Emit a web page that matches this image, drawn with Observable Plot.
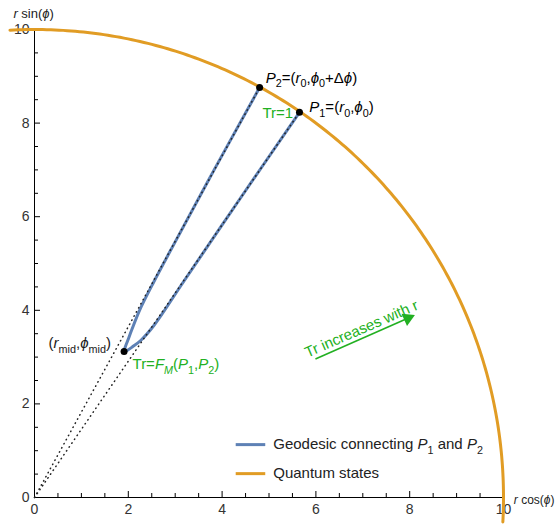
<!DOCTYPE html>
<html><head><meta charset="utf-8">
<script src="https://cdn.jsdelivr.net/npm/d3@7"></script>
<script src="https://cdn.jsdelivr.net/npm/@observablehq/plot@0.6"></script>
<style>body{margin:0;background:#fff;} #chart svg{overflow:visible}</style>
</head><body><div id="chart"></div>
<script>
// ---------- data ----------
const stateRadius = 10;
const arcAngles = d3.range(-3, 93.01, 0.5); // degrees, quantum states circle r = 10
const geoX = [4.80, 3.83, 3.02, 2.54, 2.24, 2.08, 1.99, 1.93, 1.91, 1.97, 2.09, 2.27, 2.55, 3.17, 4.40, 5.65];
const geoY = [8.76, 7.00, 5.50, 4.60, 4.00, 3.60, 3.36, 3.20, 3.12, 3.14, 3.22, 3.36, 3.68, 4.60, 6.41, 8.23];
const pointNames = ["P2", "P1", "mid"];
const pointX = [4.80, 5.65, 1.91];
const pointY = [8.76, 8.23, 3.12];
const rayEndX = [4.80, 5.65];
const rayEndY = [8.76, 8.23];
const xMajor = [0, 2, 4, 6, 8, 10];
const yMajor = [0, 2, 4, 6, 8, 10];
const xMinor = [0.5,1,1.5,2.5,3,3.5,4.5,5,5.5,6.5,7,7.5,8.5,9,9.5];
const yMinor = [0.5,1,1.5,2.5,3,3.5,4.5,5,5.5,6.5,7,7.5,8.5,9,9.5];
const annText = ["*P*_{2}=(*r*_{0},*ϕ*_{0}+Δ*ϕ*)", "*P*_{1}=(*r*_{0},*ϕ*_{0})", "Tr=1", "(*r*_{mid},*ϕ*_{mid})", "Tr=*F*_{*M*}(*P*_{1},*P*_{2})"];
const annX = [4.93, 5.86, 4.86, 0.30, 2.09];
const annY = [8.97, 8.33, 8.21, 3.29, 2.84];
const annColor = ["#000", "#000", "#22B022", "#1a1a1a", "#22B022"];
const trendText = ["Tr increases with r"];
const trendX = [6.97], trendY = [3.6];
const arrowFrom = [5.99, 2.96], arrowTo = [8.12, 3.90];
const legendLabels = ["Geodesic connecting *P*_{1} and *P*_{2}", "Quantum states"];
const legendY = [1.13, 0.51];
const axisLabels = ["*r* sin(*ϕ*)", "*r* cos(*ϕ*)"];
const axisLabelX = [-0.45, 10.22];
const axisLabelY = [10.34, -0.06];

// ---------- styles ----------
const blue = "#5E81B5", orange = "#E19C24", green = "#22B022";
const font = "'Liberation Sans', Arial, sans-serif";

const arc = arcAngles.map(a => ({x: stateRadius * Math.cos(a * Math.PI / 180), y: stateRadius * Math.sin(a * Math.PI / 180)}));
const geo = geoX.map((x, i) => ({x, y: geoY[i]}));
const pts = pointNames.map((n, i) => ({n, x: pointX[i], y: pointY[i]}));
const rays = rayEndX.map((x, i) => ({x, y: rayEndY[i]}));
const ann = annText.map((t, i) => ({t, x: annX[i], y: annY[i], c: annColor[i]}));
const leg = legendLabels.map((t, i) => ({t, y: legendY[i], c: [blue, orange][i]}));
const axl = axisLabels.map((t, i) => ({t, x: axisLabelX[i], y: axisLabelY[i], fs: [13, 12][i]}));

const tickMaj = 6 / 46.9, tickMin = 4 / 46.9;

const plot = Plot.plot({
  width: 559, height: 525,
  marginLeft: 34, marginRight: 56, marginTop: 29, marginBottom: 28,
  x: {domain: [0, 10]}, y: {domain: [0, 10]},
  style: {fontFamily: font, fontSize: "14px", background: "#fff", overflow: "visible"},
  marks: [
    Plot.axisX(xMajor, {tickSize: 0, tickPadding: 7, label: null, color: "#333", fontSize: 14}),
    Plot.axisY(yMajor, {tickSize: 0, tickPadding: 5, label: null, color: "#333", fontSize: 14}),
    Plot.ruleY([0], {x1: 0, x2: 10, stroke: "#000", strokeWidth: 1}),
    Plot.ruleX([0], {y1: 0, y2: 10, stroke: "#000", strokeWidth: 1}),
    Plot.ruleX(xMajor, {x: d => d, y1: 0, y2: tickMaj, stroke: "#000"}),
    Plot.ruleX(xMinor, {x: d => d, y1: 0, y2: tickMin, stroke: "#000"}),
    Plot.ruleY(yMajor, {y: d => d, x1: 0, x2: tickMaj, stroke: "#000"}),
    Plot.ruleY(yMinor, {y: d => d, x1: 0, x2: tickMin, stroke: "#000"}),
    Plot.line(arc, {x: "x", y: "y", stroke: orange, strokeWidth: 3}),
    Plot.line(geo, {x: "x", y: "y", stroke: blue, strokeWidth: 3, curve: "catmull-rom"}),
    Plot.link(rays, {x1: 0, y1: 0, x2: "x", y2: "y", stroke: "#222", strokeWidth: 1.5, strokeDasharray: "0.5,4.2", strokeLinecap: "round"}),
    Plot.dot(pts, {x: "x", y: "y", r: 3.5, fill: "#000"}),
    Plot.text(ann, {x: "x", y: "y", text: "t", fill: "c", textAnchor: "start", fontSize: 15}),
    Plot.text(trendText, {x: trendX, y: trendY, text: d => d, fill: green, rotate: -23.5, fontSize: 15}),
    Plot.link([0], {x1: arrowFrom[0], y1: arrowFrom[1], x2: arrowTo[0] - 0.1, y2: arrowTo[1] - 0.044, stroke: green, strokeWidth: 1.6}),
    Plot.dot([0], {x: arrowTo[0] - 0.16, y: arrowTo[1] - 0.07, symbol: "triangle", r: 5, rotate: 66, fill: green}),
    Plot.link(leg, {x1: 4.29, x2: 4.92, y1: "y", y2: "y", stroke: "c", strokeWidth: 3}),
    Plot.text(leg, {x: 5.09, y: "y", text: "t", textAnchor: "start", fill: "#222", fontSize: 15}),
    Plot.text(axl, {x: "x", y: "y", text: "t", textAnchor: "start", fill: "#222", fontSize: "fs"})
  ]
});
document.getElementById("chart").appendChild(plot);

// rich text: *italic*, _{subscript}
const NS = "http://www.w3.org/2000/svg";
plot.querySelectorAll("text").forEach(t => {
  const s = t.textContent;
  if (!/[*_]/.test(s)) return;
  const fs = parseFloat(getComputedStyle(t).fontSize) || 14;
  const segs = []; let italic = false, sub = false, buf = "";
  const push = () => { if (buf) segs.push({s: buf, italic, sub}); buf = ""; };
  for (let i = 0; i < s.length; i++) {
    const c = s[i];
    if (c === "*") { push(); italic = !italic; }
    else if (c === "_" && s[i + 1] === "{") { push(); sub = true; i++; }
    else if (c === "}" && sub) { push(); sub = false; }
    else buf += c;
  }
  push();
  t.textContent = "";
  let prevSub = false;
  const shift = fs * 0.28;
  for (const g of segs) {
    const ts = document.createElementNS(NS, "tspan");
    ts.textContent = g.s;
    if (g.italic) ts.setAttribute("font-style", "italic");
    if (g.sub) ts.setAttribute("font-size", (fs * 0.72) + "px");
    if (g.sub && !prevSub) ts.setAttribute("dy", shift);
    if (!g.sub && prevSub) ts.setAttribute("dy", -shift);
    prevSub = g.sub;
    t.appendChild(ts);
  }
});
</script>
</body></html>
